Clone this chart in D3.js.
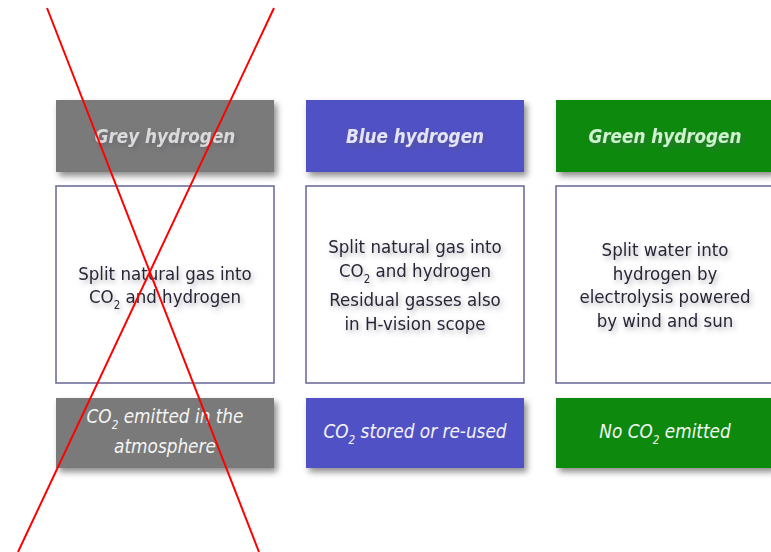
<!DOCTYPE html>
<html>
<head>
<meta charset="utf-8">
<script src="https://cdn.jsdelivr.net/npm/d3@7"></script>
<style>
  html, body { margin: 0; padding: 0; background: #fff; }
  svg { display: block; }
  text { font-family: "DejaVu Sans Condensed", "DejaVu Sans", sans-serif; }
</style>
</head>
<body>
<svg id="canvas" width="771" height="552"></svg>
<script>
// hydrogen types, one column each
const kinds = ["grey", "blue", "green"];
const headers = ["Grey hydrogen", "Blue hydrogen", "Green hydrogen"];
// middle box text: paragraphs of lines, "_2" marks a subscript
const descriptions = [
    [["Split natural gas into", "CO_2 and hydrogen"]],
    [["Split natural gas into", "CO_2 and hydrogen"], ["Residual gasses also", "in H-vision scope"]],
    [["Split water into", "hydrogen by", "electrolysis powered", "by wind and sun"]]
];
const outcomes = [
    ["CO_2 emitted in the", "atmosphere"],
    ["CO_2 stored or re-used"],
    ["No CO_2 emitted"]
];

const fill = d3.scaleOrdinal().domain(kinds).range(["#7a7a7a", "#5151c6", "#078a07"]);
const headText = d3.scaleOrdinal().domain(kinds).range(["#dadada", "#e4e4f4", "#cdf2cd"]);

const svg = d3.select("#canvas");

const x = d3.scaleBand()
    .domain(kinds)
    .range([56, 774])
    .paddingInner(0.128)
    .paddingOuter(0);

// row bands: header, description, outcome
const rows = { head: [100, 172], mid: [186, 383], foot: [398, 468] };

const defs = svg.append("defs");
defs.append("filter")
    .attr("id", "boxShadow")
    .attr("x", "-10%").attr("y", "-10%")
    .attr("width", "130%").attr("height", "140%")
    .append("feDropShadow")
    .attr("dx", 3).attr("dy", 4)
    .attr("stdDeviation", 3)
    .attr("flood-color", "#000")
    .attr("flood-opacity", 0.45);
defs.append("filter")
    .attr("id", "textShadow")
    .attr("x", "-20%").attr("y", "-50%")
    .attr("width", "140%").attr("height", "200%")
    .append("feDropShadow")
    .attr("dx", 2).attr("dy", 3)
    .attr("stdDeviation", 2.5)
    .attr("flood-color", "#556")
    .attr("flood-opacity", 0.45);

function writeLine(sel, str) {
    let parts = str.split("_2");
    parts.forEach((p, i) => {
        if (i > 0) {
            sel.append("tspan").attr("font-size", "0.62em").attr("dy", 6).text("2");
            sel.append("tspan").attr("dy", -6).text(p);
        } else {
            sel.append("tspan").text(p);
        }
    });
}

const col = svg.selectAll(".col")
    .data(kinds)
    .join("g")
    .attr("class", "col");

// header boxes
col.append("rect")
    .attr("x", d => x(d))
    .attr("y", rows.head[0])
    .attr("width", x.bandwidth())
    .attr("height", rows.head[1] - rows.head[0])
    .attr("fill", d => fill(d))
    .attr("filter", "url(#boxShadow)");

col.append("text")
    .attr("x", d => x(d) + x.bandwidth() / 2)
    .attr("y", (rows.head[0] + rows.head[1]) / 2 + 7)
    .attr("text-anchor", "middle")
    .attr("font-size", 18.7)
    .attr("font-weight", "bold")
    .attr("font-style", "italic")
    .attr("fill", d => headText(d))
    .attr("filter", "url(#textShadow)")
    .text((d, i) => headers[i]);

// description boxes
col.append("rect")
    .attr("x", d => x(d))
    .attr("y", rows.mid[0])
    .attr("width", x.bandwidth())
    .attr("height", rows.mid[1] - rows.mid[0])
    .attr("fill", "#fff")
    .attr("stroke", "#6f6f9c")
    .attr("stroke-width", 1.6);

const lineH = 23.5, paraGap = 6;
col.each(function(d, i) {
    const g = d3.select(this);
    const paras = descriptions[i];
    let nLines = d3.sum(paras, p => p.length);
    let total = nLines * lineH + (paras.length - 1) * paraGap;
    let y = (rows.mid[0] + rows.mid[1]) / 2 - total / 2 + lineH / 2 + 7;
    paras.forEach((p, pi) => {
        p.forEach(line => {
            let t = g.append("text")
                .attr("x", x(d) + x.bandwidth() / 2)
                .attr("y", y)
                .attr("text-anchor", "middle")
                .attr("font-size", 18.5)
                .attr("fill", "#262636")
                .attr("filter", "url(#textShadow)");
            writeLine(t, line);
            y += lineH;
        });
        y += paraGap;
    });
});

// outcome boxes
col.append("rect")
    .attr("x", d => x(d))
    .attr("y", rows.foot[0])
    .attr("width", x.bandwidth())
    .attr("height", rows.foot[1] - rows.foot[0])
    .attr("fill", d => fill(d))
    .attr("filter", "url(#boxShadow)");

const footH = 30;
col.each(function(d, i) {
    const g = d3.select(this);
    const lines = outcomes[i];
    let y = (rows.foot[0] + rows.foot[1]) / 2 - (lines.length - 1) * footH / 2 + 5;
    lines.forEach(line => {
        let t = g.append("text")
            .attr("x", x(d) + x.bandwidth() / 2)
            .attr("y", y)
            .attr("text-anchor", "middle")
            .attr("font-size", 18.8)
            .attr("font-style", "italic")
            .attr("fill", "#f4f4f4");
        writeLine(t, line);
        y += footH;
    });
});

// red cross over the grey column
const gx0 = x("grey"), gx1 = x("grey") + x.bandwidth();
const cross = [
    [[gx0 - 9, 8], [gx1 - 15, 552]],
    [[gx1, 8], [gx0 - 38, 552]]
];
svg.append("g")
    .selectAll("path")
    .data(cross)
    .join("path")
    .attr("d", d => d3.line()(d))
    .attr("stroke", "#ff0000")
    .attr("stroke-width", 2)
    .attr("fill", "none");
</script>
</body>
</html>
